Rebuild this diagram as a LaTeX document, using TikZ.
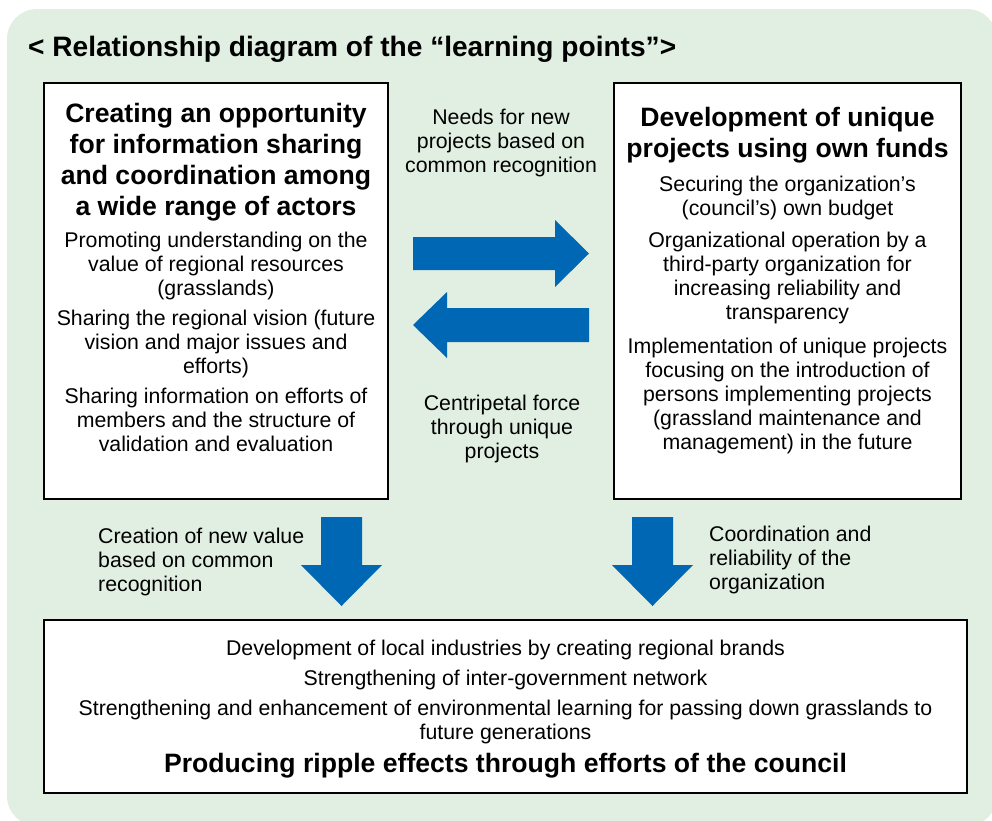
\documentclass[tikz,border=0pt]{standalone}
\usepackage{fontspec}
\setmainfont{Liberation Sans}
\usetikzlibrary{positioning}
\definecolor{panelgreen}{RGB}{225,239,226}
\definecolor{arrowblue}{RGB}{0,103,180}
\newcommand{\bodyfont}{\fontsize{21.3}{24}\selectfont}
\newcommand{\headfont}{\fontsize{26.6}{31}\selectfont\bfseries}

\begin{document}
\begin{tikzpicture}[x=1pt, y=-1pt, box/.style={draw, line width=2pt, fill=white, inner sep=0pt}, txt/.style={align=center, font=\bodyfont, inner sep=0pt, anchor=north}, head/.style={align=center, font=\headfont, inner sep=0pt, anchor=north}, label/.style={align=left, font=\bodyfont, inner sep=0pt, anchor=north west}, blockarrow/.style={fill=arrowblue}]

% panel
\clip (0,0) rectangle (992,820);
\fill[panelgreen, rounded corners=30pt] (7,9) rectangle (997,826);
\node[anchor=base west, font=\fontsize{28.1}{33}\selectfont\bfseries, inner sep=0pt] (title) at (28,56) {< Relationship diagram of the “learning points”>};

% boxes
\node[box, minimum width=344pt, minimum height=416pt] (left) at (216,291) {};
\node[box, minimum width=347pt, minimum height=416pt] (right) at (787.5,291) {};
\node[box, minimum width=923pt, minimum height=173pt] (bottom) at (505.5,706.5) {};

% left box
\node[head] (lhead) at (216,103) {Creating an opportunity\\for information sharing\\and coordination among\\a wide range of actors};
\node[txt] (l1) at (216,232) {Promoting understanding on the\\value of regional resources\\(grasslands)};
\node[txt] (l2) at (216,310) {Sharing the regional vision (future\\vision and major issues and\\efforts)};
\node[txt] (l3) at (216,388) {Sharing information on efforts of\\members and the structure of\\validation and evaluation};

% right box
\node[head] (rhead) at (787.5,107) {Development of unique\\projects using own funds};
\node[txt] (r1) at (787.5,176) {Securing the organization’s\\(council’s) own budget};
\node[txt] (r2) at (787.5,232) {Organizational operation by a\\third-party organization for\\increasing reliability and\\transparency};
\node[txt] (r3) at (787.5,338) {Implementation of unique projects\\focusing on the introduction of\\persons implementing projects\\(grassland maintenance and\\management) in the future};

% middle
\node[txt] (needs) at (501,109) {Needs for new\\projects based on\\common recognition};
\node[txt] (force) at (502,395) {Centripetal force\\through unique\\projects};
\fill[blockarrow] (413,237) -- (555,237) -- (555,220) -- (589,253.5) -- (555,287) -- (555,270) -- (413,270) -- cycle;
\fill[blockarrow] (589,308) -- (447,308) -- (447,292) -- (413,325) -- (447,358) -- (447,342) -- (589,342) -- cycle;

% down arrows
\foreach \cx in {341.5,652.5}
  \fill[blockarrow] (\cx-20.5,517) -- (\cx+20.5,517) -- (\cx+20.5,565) -- (\cx+40.5,565) -- (\cx,606) -- (\cx-40.5,565) -- (\cx-20.5,565) -- cycle;
\node[label] (value) at (98,528) {Creation of new value\\based on common\\recognition};
\node[label] (coord) at (709,526) {Coordination and\\reliability of the\\organization};

% bottom box
\node[txt] (b1) at (505.5,640) {Development of local industries by creating regional brands};
\node[txt] (b2) at (505.5,670) {Strengthening of inter-government network};
\node[txt] (b3) at (505.5,700) {Strengthening and enhancement of environmental learning for passing down grasslands to\\future generations};
\node[head] (bhead) at (505.5,753) {Producing ripple effects through efforts of the council};
\end{tikzpicture}
\end{document}
